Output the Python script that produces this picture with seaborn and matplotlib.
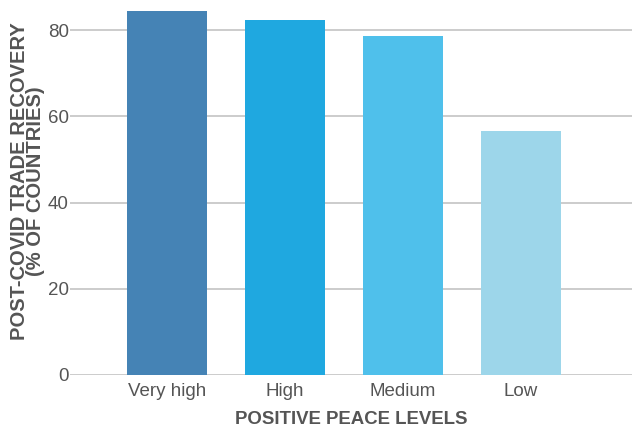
import pandas as pd
import seaborn as sns
import matplotlib.pyplot as plt

levels = ["Very high", "High", "Medium", "Low"]
recovery = [84.5, 82.4, 78.7, 56.5]
colors = ["#4583B5", "#1FA8E0", "#4FC0EB", "#9DD6EA"]

df = pd.DataFrame({"level": levels, "recovery": recovery})

sns.set_theme(style="white")
plt.rcParams["font.family"] = ["Liberation Sans", "DejaVu Sans"]

fig = plt.figure(figsize=(6.32, 4.34), dpi=100)
ax = fig.add_axes([0.111, 0.136, 0.889, 0.852])

sns.barplot(
    data=df, x="level", y="recovery", hue="level",
    palette=colors, width=0.68, legend=False, ax=ax, saturation=1,
    linewidth=0,
)

ax.set_xlim(-0.82, 3.94)
ax.set_ylim(0, 85.8)
ax.set_yticks([0, 20, 40, 60, 80])
ax.grid(axis="y", color="#c4c4c4", linewidth=1.2)
ax.set_axisbelow(True)
for s in ax.spines.values():
    s.set_visible(False)

ax.tick_params(axis="y", length=0, pad=1, labelsize=13.5, labelcolor="#555555")
ax.tick_params(axis="x", length=0, pad=6, labelsize=13.5, labelcolor="#555555")

ax.set_xlabel("POSITIVE PEACE LEVELS", fontsize=13.4, fontweight="bold",
              color="#555555", labelpad=8)
ax.set_ylabel("POST-COVID TRADE RECOVERY\n(% OF COUNTRIES)", fontsize=14.5,
              fontweight="bold", color="#555555", linespacing=0.8)
ax.yaxis.set_label_coords(-0.045, 0.525)

fig.savefig("out.png", dpi=100)
